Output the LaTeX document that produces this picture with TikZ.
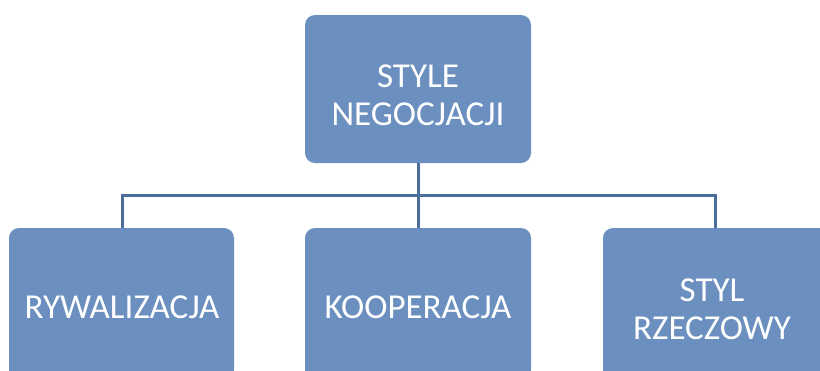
\documentclass[tikz,border=0pt]{standalone}
\usepackage{fontspec}
\setmainfont{Carlito}
\begin{document}
\begin{tikzpicture}[x=1pt,y=-1pt,
  box/.style={fill=boxfill,rounded corners=10pt},
  label/.style={text=white,font=\fontsize{35}{38}\selectfont,align=center,inner sep=0pt},
  link/.style={draw=linkblue,line width=3pt}]
\definecolor{boxfill}{HTML}{6B90C0}
\definecolor{linkblue}{HTML}{4D6D9A}
\useasboundingbox (0,0) rectangle (820,370);
\clip (0,0) rectangle (820,370);
% boxes
\path[box] (305,15) rectangle (531,163);
\path[box] (9,228) rectangle (234,380);
\path[box] (305,228) rectangle (531,380);
\path[box] (603,228) rectangle (840,380);
\coordinate (top) at (418,163);
\coordinate (cl) at (122,228);
\coordinate (cm) at (418,228);
\coordinate (cr) at (715,228);
\coordinate (bar) at (418,195);
% connectors
\draw[link] (top) -- (bar);
\draw[link] (cl) -- (cl |- bar) -- (cr |- bar) -- (cr);
\draw[link] (bar) -- (cm);
% labels
\node[label] (n0) at (418,95) {STYLE\\NEGOCJACJI};
\node[label] (n1) at (122,307) {RYWALIZACJA};
\node[label] (n2) at (418,307) {KOOPERACJA};
\node[label] (n3) at (712,309) {STYL\\RZECZOWY};
\end{tikzpicture}
\end{document}
